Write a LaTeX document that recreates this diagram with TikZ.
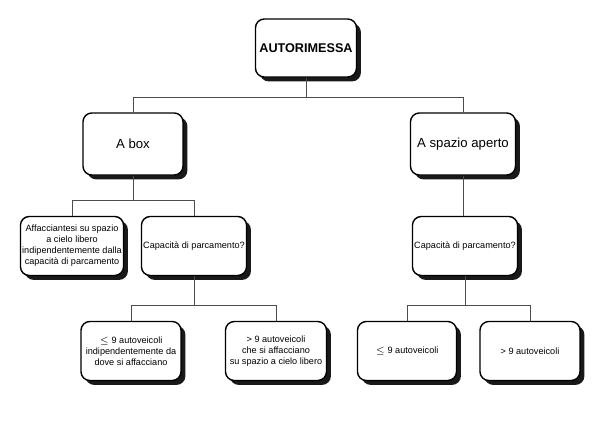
\documentclass[tikz,border=0pt]{standalone}
\usepackage{amssymb}
\usepackage{fontspec}
\setmainfont{Liberation Sans}
\usetikzlibrary{positioning, shadows}

\tikzset{
    box/.style={draw, thick, rounded corners=5pt, fill=white, align=center,
        drop shadow={shadow xshift=2.5pt, shadow yshift=-2.5pt, fill=black, opacity=0.9},
        font=\fontsize{5.2}{6.3}\selectfont, inner sep=1pt},
    link/.style={draw=black!70, line width=0.5pt}
}

\begin{document}
\begin{tikzpicture}[x=0.02cm, y=-0.02cm]
    \useasboundingbox (0,0) rectangle (600,427);
    % top level
    \node[box, minimum width=101*0.02cm, minimum height=58*0.02cm, font=\fontsize{7.2}{9}\selectfont\bfseries] (garage) at (306,48) {AUTORIMESSA};
    \node[box, minimum width=100*0.02cm, minimum height=62*0.02cm, font=\fontsize{7.5}{9}\selectfont] (boxed) at (133,144) {A box};
    \node[box, minimum width=105*0.02cm, minimum height=62*0.02cm, font=\fontsize{7.5}{9}\selectfont] (open) at (463,144) {A spazio aperto};
    % second level
    \node[box, minimum width=98*0.02cm, minimum height=59*0.02cm] (facing) at (72,246) {Affacciantesi su spazio\\a cielo libero\\indipendentemente dalla\\capacità di parcamento};
    \node[box, minimum width=101*0.02cm, minimum height=59*0.02cm] (capleft) at (194,246) {Capacità di parcamento?};
    \node[box, minimum width=101*0.02cm, minimum height=59*0.02cm] (capright) at (465,246) {Capacità di parcamento?};
    % third level
    \node[box, minimum width=100*0.02cm, minimum height=59*0.02cm] (lowleft) at (131,351) {$\leq$ 9 autoveicoli\\indipendentemente da\\dove si affacciano};
    \node[box, minimum width=101*0.02cm, minimum height=59*0.02cm] (highleft) at (276,351) {> 9 autoveicoli\\che si affacciano\\su spazio a cielo libero};
    \node[box, minimum width=99*0.02cm, minimum height=59*0.02cm] (lowright) at (407,351) {$\leq$ 9 autoveicoli};
    \node[box, minimum width=100*0.02cm, minimum height=59*0.02cm] (highright) at (530,351) {> 9 autoveicoli};
    % connectors
    \draw[link] (garage.south) -- ++(0,20) -| (boxed.north);
    \draw[link] (garage.south) -- ++(0,20) -| (open.north);
    \draw[link] (boxed.south) -- ++(0,25) -| (facing.north);
    \draw[link] (boxed.south) -- ++(0,25) -| (capleft.north);
    \draw[link] (open.south) -- (open.south |- capright.north);
    \draw[link] (capleft.south) -- ++(0,29) -| (lowleft.north);
    \draw[link] (capleft.south) -- ++(0,29) -| (highleft.north);
    \draw[link] (capright.south) -- ++(0,29) -| (lowright.north);
    \draw[link] (capright.south) -- ++(0,29) -| (highright.north);
\end{tikzpicture}
\end{document}
